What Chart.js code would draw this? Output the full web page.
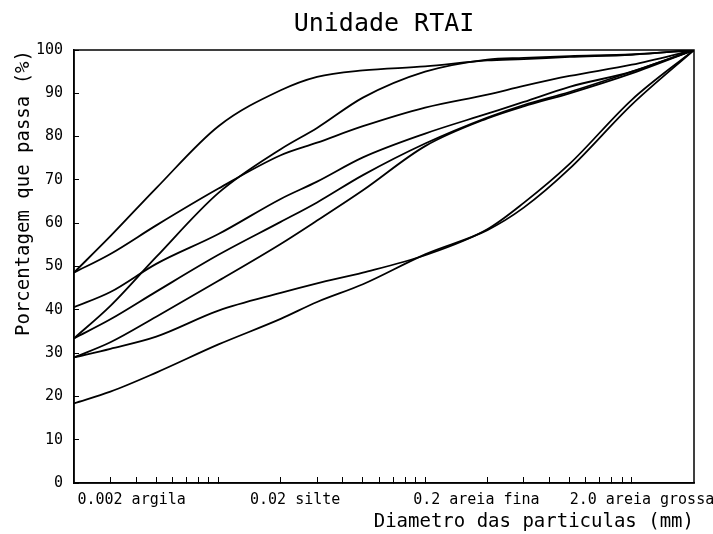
<!DOCTYPE html>
<html lang="pt">
<head>
<meta charset="utf-8">
<title>Unidade RTAI</title>
<script src="https://cdn.jsdelivr.net/npm/chart.js@4.4.1/dist/chart.umd.min.js"></script>
<style>
  html, body { margin: 0; padding: 0; background: #fff; }
</style>
</head>
<body>
<canvas id="chart" width="713" height="534"></canvas>
<script>
// ── Dados ────────────────────────────────────────────────────────────────

// diâmetros (mm) em que as curvas foram lidas
const DIAMETERS = [0.002, 0.003, 0.005, 0.01, 0.02, 0.03, 0.05, 0.1, 0.2, 0.3, 0.5, 1.0, 2.0];

// porcentagem que passa (%), uma lista por curva
const CURVE_1 = [48.6, 57.0, 68.1, 82.4, 90.7, 93.8, 95.3, 96.2, 97.6, 97.9, 98.4, 98.9, 100];
const CURVE_2 = [48.6, 52.9, 59.5, 68.0, 75.7, 78.6, 82.4, 86.7, 89.7, 91.7, 94.0, 96.6, 100];
const CURVE_3 = [40.6, 44.1, 50.6, 57.5, 65.6, 69.6, 75.2, 80.7, 85.3, 88.0, 91.5, 95.0, 100];
const CURVE_4 = [33.4, 40.9, 52.2, 67.0, 77.1, 82.0, 89.0, 95.0, 97.8, 98.2, 98.6, 99.0, 100];
const CURVE_5 = [33.4, 37.8, 44.2, 52.7, 60.3, 64.8, 71.1, 78.4, 84.4, 87.3, 90.3, 95.0, 100];
const CURVE_6 = [29.0, 32.5, 38.4, 46.7, 55.2, 60.6, 67.6, 77.8, 84.2, 87.0, 90.0, 94.6, 100];
const CURVE_7 = [29.0, 31.0, 33.8, 39.8, 43.9, 46.1, 48.6, 52.6, 58.6, 64.7, 73.7, 88.5, 100];
const CURVE_8 = [18.4, 21.1, 25.5, 32.0, 37.9, 41.8, 45.9, 52.8, 58.4, 63.6, 72.6, 87.4, 100];

const CURVES = [CURVE_1, CURVE_2, CURVE_3, CURVE_4, CURVE_5, CURVE_6, CURVE_7, CURVE_8];

// marcas do eixo x (escala log)
const TICK_MARKS = [
  0.003, 0.004, 0.005, 0.006, 0.007, 0.008, 0.009,
  0.01, 0.02, 0.03, 0.04, 0.05, 0.06, 0.07, 0.08, 0.09,
  0.1, 0.2, 0.3, 0.4, 0.5, 0.6, 0.7, 0.8, 0.9,
  1.0,
];

// rótulos das frações e o diâmetro onde cada texto fica centrado
const LABEL_TEXTS = ['0.002 argila', '0.02 silte', '0.2 areia fina', '2.0 areia grossa'];
const LABEL_ANCHORS = [0.0038, 0.0235, 0.177, 1.12];

const FONT = '"DejaVu Sans Mono", "Liberation Mono", monospace';

// ── Moldura do gráfico ───────────────────────────────────────────────────

const frame = {
  id: 'frame',
  afterDatasetsDraw(chart) {
    const { ctx, chartArea: a } = chart;
    ctx.save();
    ctx.strokeStyle = '#000';
    ctx.lineWidth = 1.5;
    ctx.strokeRect(a.left, a.top, a.right - a.left, a.bottom - a.top);
    ctx.restore();
  },
};

function labelFor(v) {
  const i = LABEL_ANCHORS.findIndex(L => Math.abs(L - v) / L < 1e-6);
  return i < 0 ? '' : LABEL_TEXTS[i];
}

new Chart(document.getElementById('chart'), {
  type: 'line',
  plugins: [frame],
  data: {
    datasets: CURVES.map((vals, i) => ({
      label: 'Curva ' + (i + 1),
      data: DIAMETERS.map((d, j) => ({ x: d, y: vals[j] })),
      borderColor: '#000',
      borderWidth: 1.8,
      pointRadius: 0,
      fill: false,
      cubicInterpolationMode: 'monotone',
    })),
  },
  options: {
    responsive: false,
    animation: false,
    layout: { padding: { left: 0, right: 19, top: 0, bottom: 0 } },
    plugins: {
      legend: { display: false },
      tooltip: { enabled: false },
      title: {
        display: true,
        fullSize: false,
        text: 'Unidade RTAI',
        color: '#000',
        font: { family: FONT, size: 25, weight: 'normal' },
        padding: { top: 9, bottom: 11 },
      },
    },
    scales: {
      // eixo com as marcas (para dentro)
      x: {
        type: 'logarithmic',
        min: 0.002,
        max: 2.0,
        weight: 0,
        afterFit(s) { s.height = 0; s.paddingLeft = 0; s.paddingRight = 0; },
        afterBuildTicks(s) { s.ticks = TICK_MARKS.map(v => ({ value: v })); },
        ticks: { display: false, autoSkip: false, maxRotation: 0, minRotation: 0 },
        grid: { drawOnChartArea: false, tickLength: -6, color: '#000' },
        border: { display: true, color: '#000', width: 1.5 },
      },
      // eixo só com os rótulos das frações
      xLabels: {
        type: 'logarithmic',
        position: 'bottom',
        min: 0.002,
        max: 2.0,
        weight: 1,
        afterFit(s) { s.height = 51; s.paddingLeft = 0; s.paddingRight = 0; },
        afterBuildTicks(s) { s.ticks = LABEL_ANCHORS.map(v => ({ value: v })); },
        ticks: {
          autoSkip: false,
          maxRotation: 0,
          minRotation: 0,
          padding: 8,
          color: '#000',
          font: { family: FONT, size: 15 },
          callback: v => labelFor(v),
        },
        grid: { display: false, drawTicks: false },
        border: { display: false },
        title: {
          display: true,
          text: 'Diametro das particulas (mm)',
          align: 'end',
          color: '#000',
          font: { family: FONT, size: 19 },
          padding: { top: 0, bottom: 1 },
        },
      },
      y: {
        min: 0,
        max: 100,
        afterFit(s) { s.width = 74; },
        ticks: {
          stepSize: 10,
          padding: 16,
          color: '#000',
          font: { family: FONT, size: 15 },
        },
        grid: { drawOnChartArea: false, tickLength: -5, color: '#000' },
        border: { display: true, color: '#000', width: 1.5 },
        title: {
          display: true,
          text: 'Porcentagem que passa (%)',
          align: 'end',
          color: '#000',
          font: { family: FONT, size: 19 },
          padding: { top: 13, bottom: 0 },
        },
      },
    },
  },
});
</script>
</body>
</html>
